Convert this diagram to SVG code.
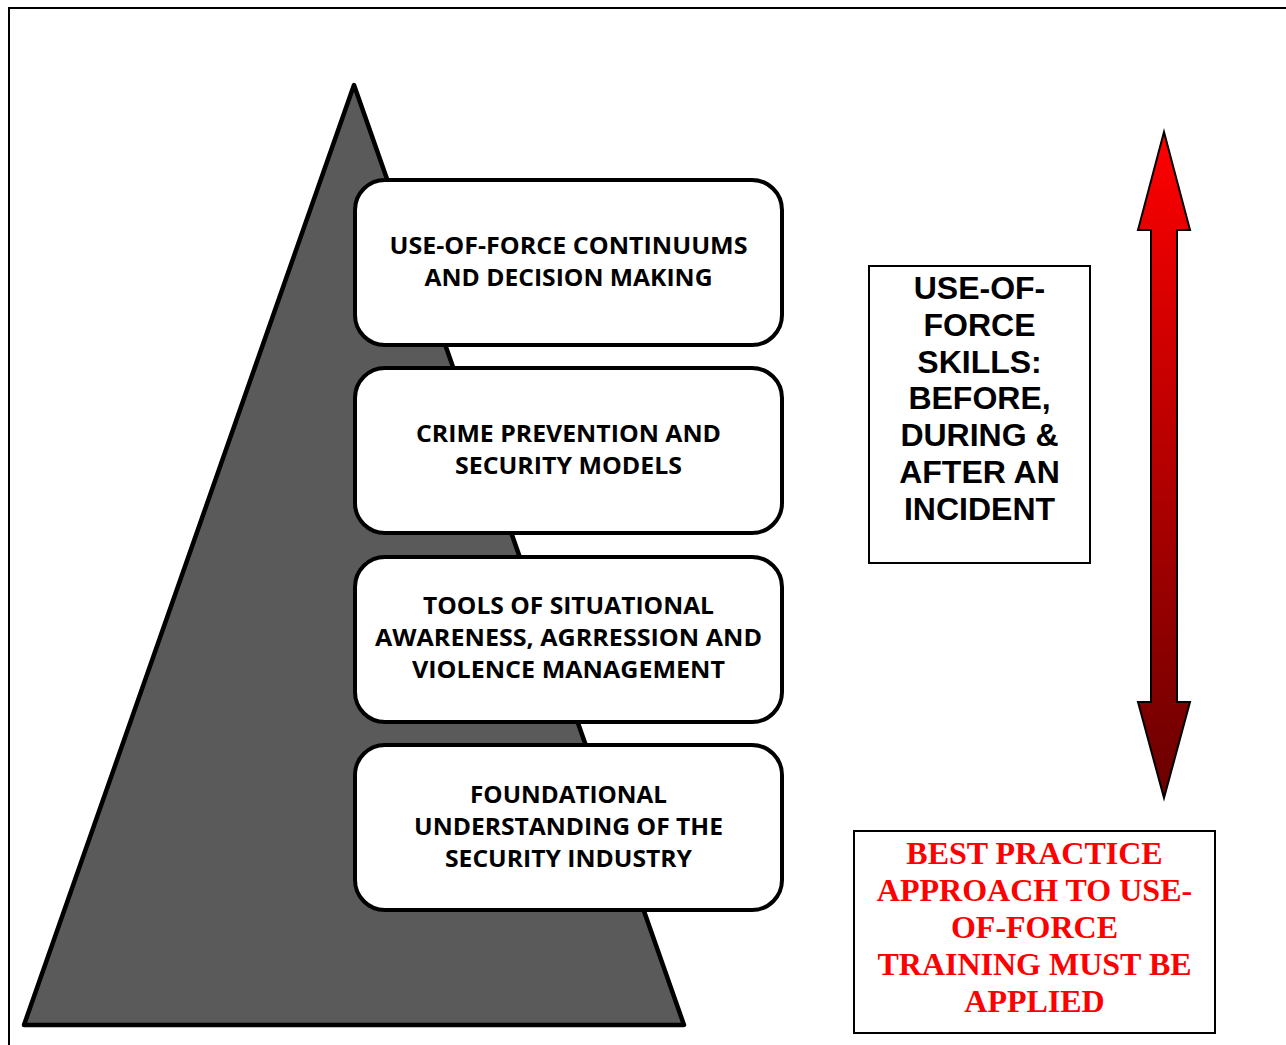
<svg xmlns="http://www.w3.org/2000/svg" width="1286" height="1045" viewBox="0 0 1286 1045">
  <defs>
    <linearGradient id="arrowGrad" x1="0" y1="0" x2="0" y2="1">
      <stop offset="0" stop-color="#ff0000"/>
      <stop offset="1" stop-color="#6a0000"/>
    </linearGradient>
    <style>
      .frame { fill: none; stroke: #000; stroke-width: 2; }
      .tri { fill: #5a5a5a; stroke: #000; stroke-width: 4.5; stroke-linejoin: round; }
      .box { fill: #fff; stroke: #000; stroke-width: 4; }
      .boxtext { font-family: "Open Sans", "Liberation Sans", sans-serif; font-weight: 700; font-size: 23.5px; fill: #000; text-anchor: middle; }
      .sidebox { fill: #fff; stroke: #000; stroke-width: 2; }
      .sidetext { font-family: "Liberation Sans", Arial, sans-serif; font-weight: 700; font-size: 32px; fill: #000; text-anchor: middle; }
      .redtext { font-family: "Liberation Serif", "Times New Roman", serif; font-weight: 700; font-size: 32px; fill: #ff0000; text-anchor: middle; }
      .arrow { fill: url(#arrowGrad); stroke: #000; stroke-width: 2; stroke-linejoin: miter; }
    </style>
  </defs>
  <rect x="0" y="0" width="1286" height="1045" fill="#fff"/>
  <path class="frame" d="M9,1046 V8 H1287"/>

  <g id="pyramid">
    <polygon class="tri" points="354,85 684,1025 24,1025"/>
  </g>

  <g id="level4">
    <rect class="box" x="355" y="180" width="427" height="165" rx="30" ry="30"/>
    <text class="boxtext" x="568.5" y="254" textLength="358" lengthAdjust="spacingAndGlyphs">USE-OF-FORCE CONTINUUMS</text>
    <text class="boxtext" x="568.5" y="286" textLength="288" lengthAdjust="spacingAndGlyphs">AND DECISION MAKING</text>
  </g>
  <g id="level3">
    <rect class="box" x="355" y="368" width="427" height="165" rx="30" ry="30"/>
    <text class="boxtext" x="568.5" y="442" textLength="305" lengthAdjust="spacingAndGlyphs">CRIME PREVENTION AND</text>
    <text class="boxtext" x="568.5" y="474" textLength="227" lengthAdjust="spacingAndGlyphs">SECURITY MODELS</text>
  </g>
  <g id="level2">
    <rect class="box" x="355" y="557" width="427" height="165" rx="30" ry="30"/>
    <text class="boxtext" x="568.5" y="614" textLength="291" lengthAdjust="spacingAndGlyphs">TOOLS OF SITUATIONAL</text>
    <text class="boxtext" x="568.5" y="646" textLength="387" lengthAdjust="spacingAndGlyphs">AWARENESS, AGRRESSION AND</text>
    <text class="boxtext" x="568.5" y="678" textLength="313" lengthAdjust="spacingAndGlyphs">VIOLENCE MANAGEMENT</text>
  </g>
  <g id="level1">
    <rect class="box" x="355" y="745" width="427" height="165" rx="30" ry="30"/>
    <text class="boxtext" x="568.5" y="803" textLength="197" lengthAdjust="spacingAndGlyphs">FOUNDATIONAL</text>
    <text class="boxtext" x="568.5" y="835" textLength="309" lengthAdjust="spacingAndGlyphs">UNDERSTANDING OF THE</text>
    <text class="boxtext" x="568.5" y="867" textLength="247" lengthAdjust="spacingAndGlyphs">SECURITY INDUSTRY</text>
  </g>

  <g id="skills">
    <rect class="sidebox" x="869" y="266" width="221" height="297"/>
    <text class="sidetext" x="979.5" y="299">USE-OF-</text>
    <text class="sidetext" x="979.5" y="336">FORCE</text>
    <text class="sidetext" x="979.5" y="373">SKILLS:</text>
    <text class="sidetext" x="979.5" y="409">BEFORE,</text>
    <text class="sidetext" x="979.5" y="446">DURING &amp;</text>
    <text class="sidetext" x="979.5" y="483">AFTER AN</text>
    <text class="sidetext" x="979.5" y="520">INCIDENT</text>
  </g>

  <g id="bestpractice">
    <rect class="sidebox" x="854" y="831" width="361" height="202"/>
    <text class="redtext" x="1034.5" y="864">BEST PRACTICE</text>
    <text class="redtext" x="1034.5" y="901">APPROACH TO USE-</text>
    <text class="redtext" x="1034.5" y="938">OF-FORCE</text>
    <text class="redtext" x="1034.5" y="975">TRAINING MUST BE</text>
    <text class="redtext" x="1034.5" y="1012">APPLIED</text>
  </g>

  <g id="connectors">
    <polygon class="arrow" points="1164,132 1190,230 1177,230 1177,702 1190,702 1164,798 1138,702 1151,702 1151,230 1138,230"/>
  </g>
</svg>
